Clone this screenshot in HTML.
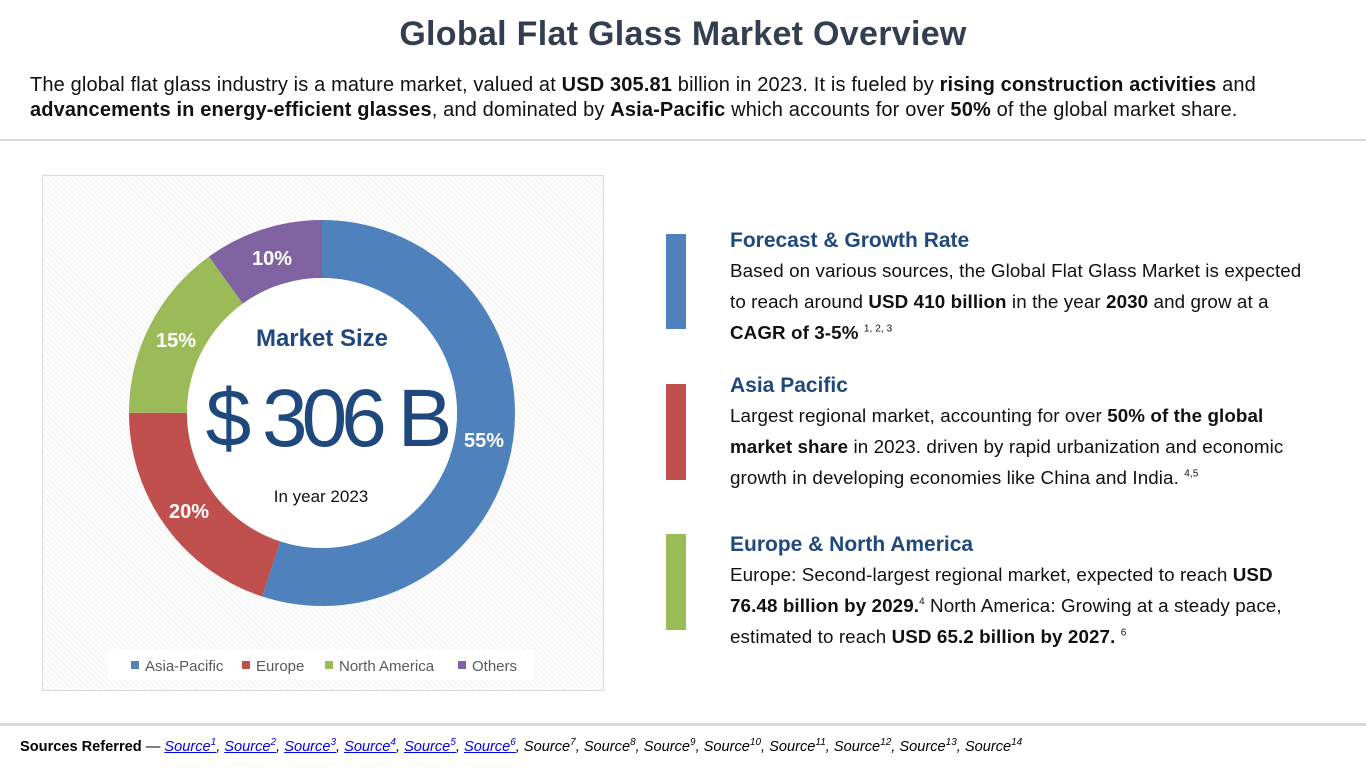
<!DOCTYPE html>
<html><head><meta charset="utf-8"><style>
body{margin:0;width:1366px;height:768px;background:#fff;font-family:"Liberation Sans",sans-serif;position:relative;overflow:hidden;color:#000}
.t{position:absolute;left:0;width:1366px;top:15px;text-align:center;font-size:34px;font-weight:bold;color:#333f50;letter-spacing:0.3px}
.intro{position:absolute;left:30px;top:73px;width:1330px;font-size:20px;line-height:25px;color:#111;white-space:nowrap;letter-spacing:0.15px}
.hr1{position:absolute;left:0;top:139px;width:1366px;height:2px;background:#d9d9d9}
.hr2{position:absolute;left:0;top:723px;width:1366px;height:3px;background:#d9d9d9}
.box{position:absolute;left:42px;top:175px;width:560px;height:514px;border:1px solid #d9d9d9;background:repeating-linear-gradient(45deg,#f7f7f7 0 2px,#fdfdfd 2px 4px)}
.bar{position:absolute;left:666px;width:20px}
.sec{position:absolute;left:730px;width:630px}
.sec h3{margin:0;font-size:21px;color:#1f497d;font-weight:bold;line-height:28px}
.sec p{margin:0;font-size:18.8px;line-height:31px;color:#111;white-space:nowrap;letter-spacing:0.1px}
sup{font-size:10px;line-height:0}
.src{position:absolute;left:20px;top:739px;font-size:14.6px;font-style:italic}
.src a{color:#0000ee;text-decoration:underline}
</style></head><body>
<div class="t">Global Flat Glass Market Overview</div>
<div class="intro">The global flat glass industry is a mature market, valued at <b>USD 305.81</b> billion in 2023. It is fueled by <b>rising construction activities</b> and<br><b>advancements in energy-efficient glasses</b>, and dominated by <b>Asia-Pacific</b> which accounts for over <b>50%</b> of the global market share.</div>
<div class="hr1"></div>
<div class="box"></div>
<svg style="position:absolute;left:0;top:0" width="640" height="720">
<defs><radialGradient id="sh"><stop offset="0.6" stop-color="#000" stop-opacity="0"/><stop offset="0.72" stop-color="#000" stop-opacity="0.12"/><stop offset="0.85" stop-color="#000" stop-opacity="0"/></radialGradient></defs>
<circle cx="322" cy="415" r="220" fill="url(#sh)"/>
<g transform="rotate(-90 322 413)" fill="none" stroke-width="58">
<circle cx="322" cy="413" r="164" stroke="#4f81bd" stroke-dasharray="566.7 2000"/>
<circle cx="322" cy="413" r="164" stroke="#c0504d" stroke-dasharray="0 566.7 206.1 2000"/>
<circle cx="322" cy="413" r="164" stroke="#9bbb59" stroke-dasharray="0 772.8 154.6 2000"/>
<circle cx="322" cy="413" r="164" stroke="#8064a2" stroke-dasharray="0 927.4 103.1 2000"/>
</g>
<circle cx="322" cy="413" r="135" fill="#fff"/>
<g font-weight="bold" font-size="20" fill="#fff" text-anchor="middle">
<text x="272" y="265">10%</text><text x="176" y="347">15%</text><text x="189" y="518">20%</text><text x="484" y="447">55%</text></g>
<text x="322" y="346" text-anchor="middle" font-size="24" font-weight="bold" fill="#1f497d">Market Size</text>
<text x="326" y="446" text-anchor="middle" font-size="82" fill="#1f497d" letter-spacing="-6">$ 306 B</text>
<text x="321" y="502" text-anchor="middle" font-size="17" fill="#111">In year 2023</text>
<rect x="108" y="650" width="425" height="30" fill="#fff"/>
<g font-size="15" fill="#595959">
<rect x="131" y="661" width="8" height="8" fill="#4f81bd"/><text x="145" y="671">Asia-Pacific</text>
<rect x="242" y="661" width="8" height="8" fill="#c0504d"/><text x="256" y="671">Europe</text>
<rect x="325" y="661" width="8" height="8" fill="#9bbb59"/><text x="339" y="671">North America</text>
<rect x="458" y="661" width="8" height="8" fill="#8064a2"/><text x="472" y="671">Others</text>
</g></svg>
<div class="bar" style="top:234px;height:95px;background:#4f81bd"></div>
<div class="bar" style="top:384px;height:96px;background:#c0504d"></div>
<div class="bar" style="top:534px;height:96px;background:#9bbb59"></div>
<div class="sec" style="top:227px"><h3>Forecast &amp; Growth Rate</h3><p>Based on various sources, the Global Flat Glass Market is expected<br>to reach around <b>USD 410 billion</b> in the year <b>2030</b> and grow at a<br><b>CAGR of 3-5%</b> <sup>1, 2, 3</sup></p></div>
<div class="sec" style="top:372px"><h3>Asia Pacific</h3><p>Largest regional market, accounting for over <b>50% of the global</b><br><b>market share</b> in 2023. driven by rapid urbanization and economic<br>growth in developing economies like China and India. <sup>4,5</sup></p></div>
<div class="sec" style="top:531px"><h3>Europe &amp; North America</h3><p>Europe: Second-largest regional market, expected to reach <b>USD</b><br><b>76.48 billion by 2029.</b><sup>4</sup> North America: Growing at a steady pace,<br>estimated to reach <b>USD 65.2 billion by 2027.</b> <sup>6</sup></p></div>
<div class="hr2"></div>
<div class="src"><b style="font-style:normal">Sources Referred</b> — <a>Source<sup>1</sup></a>, <a>Source<sup>2</sup></a>, <a>Source<sup>3</sup></a>, <a>Source<sup>4</sup></a>, <a>Source<sup>5</sup></a>, <a>Source<sup>6</sup></a>, Source<sup>7</sup>, Source<sup>8</sup>, Source<sup>9</sup>, Source<sup>10</sup>, Source<sup>11</sup>, Source<sup>12</sup>, Source<sup>13</sup>, Source<sup>14</sup></div>
</body></html>
